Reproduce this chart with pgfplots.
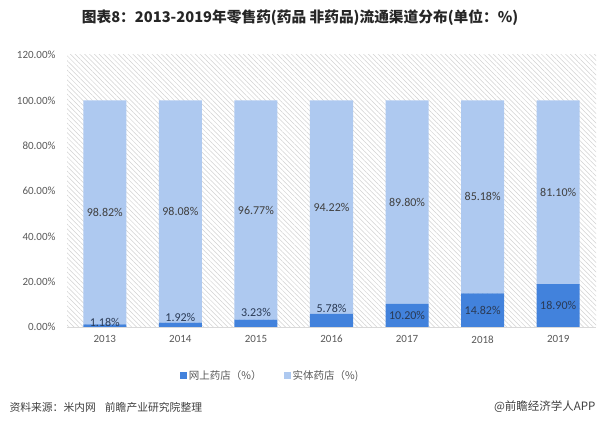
\documentclass[border=0pt]{standalone}
\usepackage{fontspec}
\setmainfont{Carlito}
\newfontfamily\cjk{Noto Sans CJK SC}
\usepackage{pgfplots}
\pgfplotsset{compat=1.18}
\usetikzlibrary{patterns.meta}
\definecolor{darkb}{HTML}{4282DC}
\definecolor{lightb}{HTML}{AEC9F0}
\definecolor{tickc}{HTML}{595959}
\definecolor{hatchc}{HTML}{D2D2D2}
\definecolor{gridc}{HTML}{D9D9D9}
\definecolor{labup}{HTML}{404040}
\definecolor{labdn}{HTML}{2A3A55}
\definecolor{titlec}{HTML}{262626}

\begin{document}
\begin{tikzpicture}[x=1pt,y=1pt]
\useasboundingbox[fill=white] (0,0) rectangle (600,431);
\begin{axis}[
  at={(67pt,104pt)}, anchor=south west,
  scale only axis, width=529pt, height=272pt,
  ybar stacked, bar width=43pt,
  xmin=-0.5, xmax=6.5, ymin=0, ymax=120,
  xtick={0,...,6}, xticklabels={2013,2014,2015,2016,2017,2018,2019},
  ytick={0,20,...,120},
  /pgf/number format/assume math mode=true,
  yticklabel={\pgfmathprintnumber[fixed,fixed zerofill,precision=2]{\tick}\%},
  ticklabel style={font=\fontsize{11}{13}\selectfont, text=tickc},
  yticklabel style={xshift=-8pt},
  xticklabel style={yshift=-5pt},
  axis line style={draw=none},
  major tick length=0pt,
  extra y ticks={0}, extra y tick labels={},
  extra y tick style={grid=major, major grid style={draw=gridc, line width=0.8pt}},
  axis background/.style={pattern={Lines[angle=-45,distance=3.4pt,line width=0.5pt]}, pattern color=hatchc},
  legend style={at={(0.384,-0.18)}, anchor=center, draw=none, fill=none,
    legend columns=2, font=\cjk\fontsize{10.5}{12}\selectfont, text=tickc,
    /tikz/every even column/.append style={column sep=20pt}},
  legend image code/.code={\fill[#1] (0pt,-3.5pt) rectangle (7pt,3.5pt);},
]
\addplot[fill=darkb, draw=none] coordinates {(0,1.18) (1,1.92) (2,3.23) (3,5.78) (4,10.20) (5,14.82) (6,18.90)};
\addplot[fill=lightb, draw=none] coordinates {(0,98.82) (1,98.08) (2,96.77) (3,94.22) (4,89.80) (5,85.18) (6,81.10)};
\legend{网上药店（\%）, 实体药店（\%)}
\end{axis}
\begin{axis}[
  at={(67pt,104pt)}, anchor=south west,
  scale only axis, width=529pt, height=272pt,
  xmin=-0.5, xmax=6.5, ymin=0, ymax=120,
  hide axis,
  /pgf/number format/assume math mode=true,
]
\addplot[draw=none, mark=none, nodes near coords={\pgfmathprintnumber[fixed,fixed zerofill,precision=2]{\pgfplotspointmeta}\%},
  point meta=\thisrow{v},
  nodes near coords style={anchor=center, text=labup, font=\fontsize{12}{14}\selectfont}]
  table {
x y v
0 50.59 98.82
1 50.96 98.08
2 51.62 96.77
3 52.89 94.22
4 55.10 89.80
5 57.41 85.18
6 59.45 81.10
};
\addplot[draw=none, mark=none, nodes near coords={\pgfmathprintnumber[fixed,fixed zerofill,precision=2]{\pgfplotspointmeta}\%},
  point meta=\thisrow{v},
  nodes near coords style={anchor=center, text=labdn, font=\fontsize{12}{14}\selectfont}]
  table {
x y v
0 1.8 1.18
1 4.0 1.92
2 6.6 3.23
3 8.4 5.78
4 4.9 10.20
5 7.1 14.82
6 9.3 18.90
};
\end{axis}
\node[font=\cjk\bfseries\fontsize{14.7}{17}\selectfont, text=titlec] at (300,413) {图表8：2013-2019年零售药(药品 非药品)流通渠道分布(单位：\%)};
\node[anchor=west, font=\cjk\fontsize{10.8}{12}\selectfont, text=labup] at (6,24) {资料来源：米内网\hspace{9pt}前瞻产业研究院整理};
\node[anchor=east, font=\cjk\fontsize{11.5}{13}\selectfont, text=labup] at (599,24) {@前瞻经济学人APP};
\end{tikzpicture}
\end{document}
